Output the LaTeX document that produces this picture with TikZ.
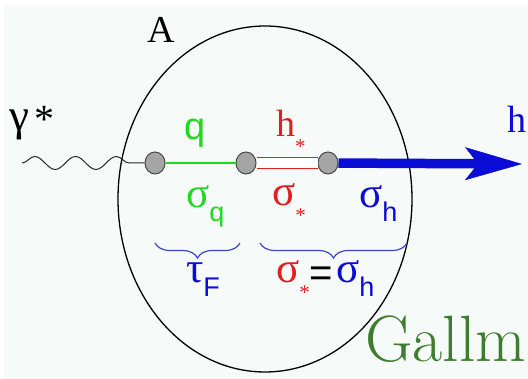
\documentclass[tikz,border=0pt]{standalone}
\usepackage{fontspec}
\newfontfamily\tms{Liberation Serif}
\newfontfamily\hlv{Liberation Sans}
\usetikzlibrary{arrows.meta,shapes.geometric,decorations.pathmorphing,decorations.pathreplacing}
\definecolor{qgreen}{RGB}{35,215,35}
\definecolor{hred}{RGB}{228,30,30}
\definecolor{hblue}{RGB}{12,12,215}
\definecolor{brblue}{RGB}{60,70,205}
\definecolor{galcol}{RGB}{62,125,45}
\definecolor{bgcol}{RGB}{246,250,248}
\definecolor{vgray}{RGB}{165,165,165}
\definecolor{vborder}{RGB}{70,70,70}
\definecolor{wavecol}{RGB}{40,40,40}
\newcommand{\bigf}{\fontsize{36}{40}\selectfont}
\newcommand{\grf}{\fontsize{43}{46}\selectfont}
\newcommand{\subf}{\fontsize{27}{28}\selectfont}
\newcommand{\starf}{\fontsize{21}{22}\selectfont}
\newcommand{\lsub}[1]{\raisebox{-14pt}{\hlv\subf #1}}
\newcommand{\lstar}{\raisebox{-17pt}{\tms\starf *}}
\begin{document}
\begin{tikzpicture}[x=1pt,y=-1pt,
  vertex/.style={ellipse, minimum width=20pt, minimum height=22pt, inner sep=0pt,
    fill=vgray, draw=vborder, line width=1pt},
  lbl/.style={inner sep=0pt, anchor=base west},
  bracestyle/.style={draw=brblue, line width=1.2pt, decorate,
    decoration={brace, mirror, amplitude=15pt}}]
\useasboundingbox (0,0) rectangle (528,379);
\fill[white] (0,0) rectangle (528,379);
\fill[bgcol] (4,5) rectangle (528,379);
% nucleus
\draw[line width=1.3pt] (265,199) ellipse [x radius=147, y radius=173];
% vertices
\node[vertex] (v1) at (155,163) {};
\node[vertex] (v2) at (246,163) {};
\node[vertex] (v3) at (328,163) {};
\coordinate (gstart) at (22,163);
\coordinate (hend) at (522,164);
% connectors
\draw[line width=1pt, wavecol, decorate,
  decoration={snake, segment length=40.8pt, amplitude=6.5pt}] (gstart) -- (v1);
\draw[qgreen, line width=2.2pt] (v1) -- (v2);
\draw[hred, line width=1pt, double=white, double distance=10pt] (v2) -- (v3);
\draw[hblue, line width=9.5pt,
  -{Stealth[length=57pt, width=33pt, inset=13pt, line width=0.5pt]}] (v3) -- (hend);
% braces
\draw[bracestyle] (155,243) -- (240,243);
\draw[bracestyle] (260,243) -- (407,243);
% labels
\node[lbl] (gam) at (9,131) {\tms\fontsize{45}{46}\selectfont γ\kern5pt\raisebox{-2pt}{\fontsize{40}{40}\selectfont*}};
\node[lbl] (A) at (147,43) {\tms\fontsize{38}{40}\selectfont A};
\node[lbl, text=qgreen] (q) at (184,140) {\hlv\fontsize{38}{40}\selectfont q};
\node[lbl, text=hred] (hs) at (276,137) {\tms\fontsize{38}{40}\selectfont h\lstar};
\node[lbl, text=hblue] (h) at (507,133) {\tms\fontsize{38}{40}\selectfont h};
\node[lbl, text=qgreen] (sq) at (186,208) {\tms\grf σ\lsub{q}};
\node[lbl, text=hred] (ss) at (272,206) {\tms\grf σ\lstar};
\node[lbl, text=hblue] (sh) at (359,208) {\tms\grf σ\lsub{h}};
\node[lbl, text=hblue] (tf) at (186,283) {\tms\grf τ\lsub{F}};
\node[lbl] (eq) at (276,283) {\tms\grf\textcolor{hred}{σ\lstar}\raisebox{-4pt}{\hlv\fontsize{40}{40}\selectfont =}\kern3pt\textcolor{hblue}{σ\lsub{h}}};
\node[lbl, text=galcol] (gallm) at (365,362) {\fontsize{65.5}{66}\selectfont Gallm};
\end{tikzpicture}
\end{document}
